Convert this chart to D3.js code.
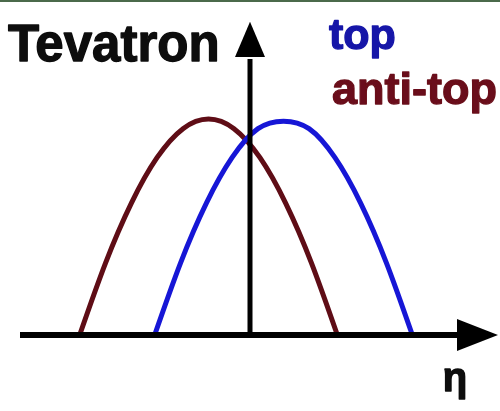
<!DOCTYPE html>
<html>
<head>
<meta charset="utf-8">
<script src="https://cdn.jsdelivr.net/npm/d3@7/dist/d3.min.js"></script>
<style>
  html, body { margin: 0; padding: 0; background: #ffffff; }
  svg { display: block; }
</style>
</head>
<body>
<svg id="chart" width="500" height="411"></svg>
<script>
// Pseudorapidity samples and relative yields for each species
const etaTop = [-1.90, -1.39, -0.87, -0.36, 0.16, 0.67, 1.18, 1.70, 2.21, 2.73, 3.24];
const topValues = [0, 0.33, 0.61, 0.82, 0.955, 0.99, 0.955, 0.82, 0.61, 0.33, 0];
const etaAntiTop = [-3.40, -2.89, -2.37, -1.86, -1.34, -0.83, -0.32, 0.20, 0.71, 1.23, 1.74];
const antiTopValues = [0, 0.33, 0.61, 0.82, 0.955, 1, 0.955, 0.82, 0.61, 0.33, 0];
const seriesNames = ["top", "anti-top"];
const titleText = "Tevatron";
const axisLabel = "η";

const W = 500, H = 411;
const svg = d3.select("#chart");

const x = d3.scaleLinear().domain([-5, 5]).range([0, W]);
const y = d3.scaleLinear().domain([0, 1]).range([334, 119]);

const blur = svg.append("defs").append("filter").attr("id", "soft");
blur.append("feGaussianBlur").attr("stdDeviation", 0.55);

const g = svg.append("g").attr("filter", "url(#soft)");

g.append("rect").attr("x", 0).attr("y", 0).attr("width", W).attr("height", H).attr("fill", "#ffffff");
// thin frame line along the top edge
g.append("rect").attr("x", 0).attr("y", 0).attr("width", W).attr("height", 2).attr("fill", "#4c6a4c");

const series = [
  { name: seriesNames[1], eta: etaAntiTop, v: antiTopValues, color: "#5e0c16" },
  { name: seriesNames[0], eta: etaTop, v: topValues, color: "#1717d6" }
];

const line = d3.line()
  .x(d => x(d[0]))
  .y(d => y(d[1]))
  .curve(d3.curveNatural);

series.forEach(s => {
  g.append("path")
    .datum(s.eta.map((e, i) => [e, s.v[i]]))
    .attr("d", line)
    .attr("fill", "none")
    .attr("stroke", s.color)
    .attr("stroke-width", 5)
    .attr("stroke-linecap", "round");
});

// Axes with arrowheads
const x0 = x(0), y0 = y(0);
const xStart = x(-4.6), xArrowBase = x(4.14), xTip = x(4.96);
const yArrowBase = y(1.288), yTip = y(1.452);

g.append("line")
  .attr("x1", x0).attr("x2", x0)
  .attr("y1", y0).attr("y2", yArrowBase + 2)
  .attr("stroke", "#000").attr("stroke-width", 5);
g.append("path")
  .attr("d", `M${x0 - 15},${yArrowBase} L${x0},${yTip} L${x0 + 15},${yArrowBase} Z`)
  .attr("fill", "#000");

g.append("line")
  .attr("x1", xStart).attr("x2", xArrowBase + 2)
  .attr("y1", y0 + 1).attr("y2", y0 + 1)
  .attr("stroke", "#000").attr("stroke-width", 6);
g.append("path")
  .attr("d", `M${xArrowBase},${y0 + 1 - 16} L${xTip},${y0 + 1} L${xArrowBase},${y0 + 1 + 16} Z`)
  .attr("fill", "#000");

const font = "'Liberation Sans', Arial, Helvetica, sans-serif";

function label(txt, px, py, size, color, anchor) {
  g.append("text")
    .attr("x", px).attr("y", py)
    .attr("text-anchor", anchor || "start")
    .attr("font-family", font).attr("font-weight", "bold").attr("font-size", size)
    .attr("fill", color)
    .attr("stroke", color).attr("stroke-width", 1.3).attr("stroke-linejoin", "round")
    .text(txt);
}

label(titleText, 8, 61, 51, "#0a0a0a");
label(seriesNames[0], 329, 49, 43, "#1616a8");
label(seriesNames[1], 332, 104, 45, "#6a0f1a");
label(axisLabel, 455, 391, 40, "#0a0a0a", "middle");
</script>
</body>
</html>
